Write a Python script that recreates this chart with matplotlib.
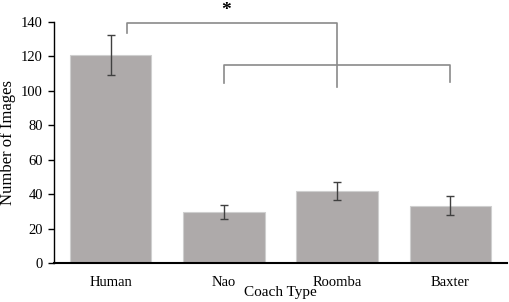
import matplotlib
matplotlib.use("Agg")

import matplotlib.pyplot as plt

coaches = ["Human", "Nao", "Roomba", "Baxter"]
images = [121, 29.5, 42, 33.3]
errors = [11.5, 4.2, 5.2, 5.5]

plt.rcParams["font.family"] = ["Liberation Serif", "DejaVu Serif"]

fig = plt.figure(figsize=(5.10, 3.02), dpi=100)
ax = fig.add_axes([0.106, 0.129, 0.888, 0.798])

x = range(len(coaches))
ax.bar(x, images, width=0.72, color="#aeaaaa", edgecolor="#cfcfcf", linewidth=0.8,
       yerr=errors, capsize=3, error_kw=dict(ecolor="#404040", elinewidth=1.0, capthick=1.0))

ax.set_xlim(-0.5, len(coaches) - 0.5)
ax.set_ylim(0, 140)
ax.set_yticks(range(0, 141, 20))
ax.set_xticks(list(x))
ax.set_xticklabels(coaches)
ax.tick_params(axis="x", length=0, pad=9, labelsize=10.5)
ax.tick_params(axis="y", length=4, width=1, direction="out", labelsize=10.5, pad=4)
for s in ["top", "right"]:
    ax.spines[s].set_visible(False)
ax.spines["left"].set_linewidth(1.0)
ax.spines["bottom"].set_linewidth(1.5)

ax.set_xlabel("Coach Type", fontsize=11, labelpad=-1.5)
ax.set_ylabel("Number of Images", fontsize=12, labelpad=4)

# significance brackets
bc = "#8a8a8a"
ax.plot([0.145, 0.145, 2.0, 2.0], [133.5, 139.5, 139.5, 102.3], color=bc, lw=1.2, clip_on=False)
ax.plot([1.0, 1.0, 3.0, 3.0], [104.6, 115, 115, 104.9], color=bc, lw=1.2, clip_on=False)
ax.text(1.02, 146.5, "*", ha="center", va="center", fontsize=14, fontweight="bold", clip_on=False)

plt.savefig("out.png", dpi=100)
